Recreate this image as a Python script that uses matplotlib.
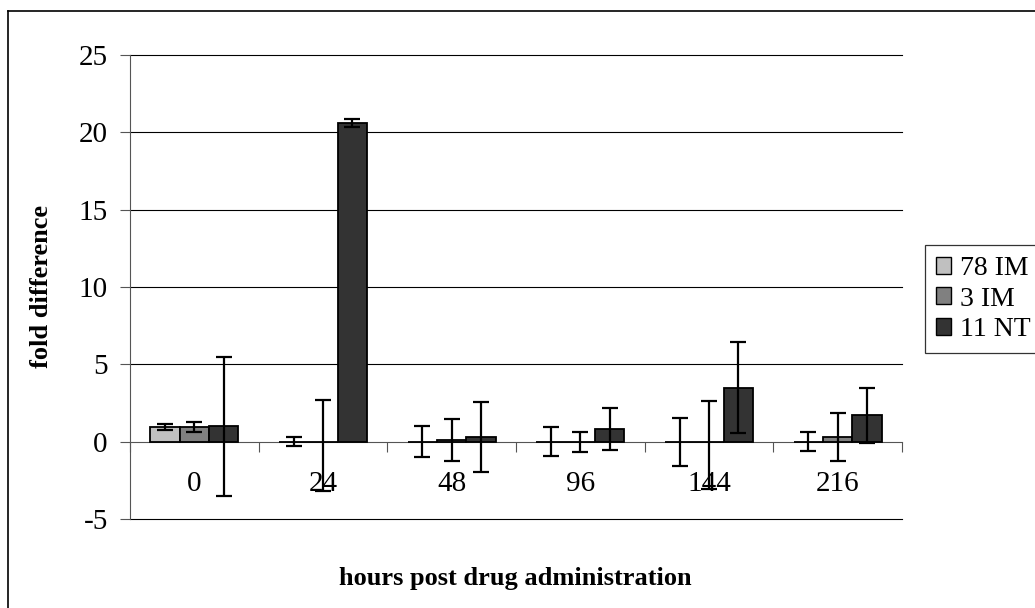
import matplotlib.pyplot as plt
import numpy as np
from matplotlib.patches import Patch
from matplotlib.lines import Line2D

# Datos
horas = ['0', '24', '48', '96', '144', '216']
series = ['78 IM', '3 IM', '11 NT']
colores = ['#c0c0c0', '#808080', '#333333']

im78 = [0.95, 0.0, 0.0, 0.0, 0.0, 0.0]
im78_err_bajo = [0.2, 0.27, 1.0, 0.94, 1.56, 0.6]
im78_err_alto = [0.2, 0.27, 1.0, 0.94, 1.56, 0.6]

im3 = [0.95, 0.0, 0.1, 0.0, 0.0, 0.28]
im3_err_bajo = [0.33, 3.2, 1.35, 0.65, 3.05, 1.55]
im3_err_alto = [0.33, 2.7, 1.35, 0.65, 2.6, 1.55]

nt11 = [1.0, 20.6, 0.3, 0.8, 3.5, 1.7]
nt11_err_bajo = [4.5, 0.28, 2.25, 1.35, 2.95, 1.8]
nt11_err_alto = [4.5, 0.28, 2.25, 1.35, 2.95, 1.8]

valores = [im78, im3, nt11]
errores = [(im78_err_bajo, im78_err_alto), (im3_err_bajo, im3_err_alto),
           (nt11_err_bajo, nt11_err_alto)]

plt.rcParams['font.family'] = ['Liberation Serif', 'DejaVu Serif']
plt.rcParams['axes.unicode_minus'] = False

fig = plt.figure(figsize=(10.35, 6.08), dpi=100)
ax = fig.add_axes([130 / 1035, 1 - 519 / 608, 772 / 1035, 464 / 608])

x = np.arange(len(horas))
ancho = 0.228
for i, (vals, err, col) in enumerate(zip(valores, errores, colores)):
    pos = x + (i - 1) * ancho
    ax.bar(pos, vals, width=ancho, color=col, edgecolor='black', linewidth=1.3, zorder=3)
    ax.errorbar(pos, vals, yerr=[err[0], err[1]], fmt='none', ecolor='black',
                elinewidth=1.6, capsize=6, capthick=1.6, zorder=4)

ax.set_xlim(-0.5, len(horas) - 0.5)
ax.set_ylim(-5, 25)
ax.set_yticks(range(-5, 30, 5))
for yv in range(-5, 30, 5):
    if yv != 0:
        ax.axhline(yv, color='black', linewidth=0.8, zorder=0, clip_on=False)
ax.tick_params(axis='y', direction='out', length=7, width=0.8, labelsize=21, pad=9,
               color='#555555')

# eje de categorías cruzando en 0
ax.spines['bottom'].set_position(('data', 0))
ax.spines['bottom'].set_linewidth(0.8)
ax.spines['bottom'].set_color('#555555')
ax.set_xticks(np.arange(-0.5, len(horas), 1))
ax.set_xticklabels([])
ax.set_xticks(x, minor=True)
ax.set_xticklabels(horas, minor=True)
ax.tick_params(axis='x', which='major', direction='out', length=7, width=0.8, color='#555555')
ax.tick_params(axis='x', which='minor', length=0, labelsize=21, pad=21)
for lado in ['top', 'right']:
    ax.spines[lado].set_visible(False)
ax.spines['left'].set_linewidth(0.8)
ax.spines['left'].set_color('#555555')

fig.text(42 / 1035, 1 - 287 / 608, 'fold difference', rotation=90, fontsize=19,
         fontweight='bold', ha='center', va='center')
fig.text(515 / 1035, 1 - 578 / 608, 'hours post drug administration', fontsize=19,
         fontweight='bold', ha='center', va='center')

handles = [Patch(facecolor=c, edgecolor='black', linewidth=1) for c in colores]
leg = fig.legend(handles, series, loc='upper left', bbox_to_anchor=(925 / 1035, 1 - 245 / 608),
                 fontsize=20, frameon=True, fancybox=False, handlelength=0.55, handleheight=0.55,
                 handletextpad=0.3, labelspacing=0.2, borderpad=0.4, borderaxespad=0)
leg.get_frame().set_edgecolor('black')
leg.get_frame().set_linewidth(0.9)

# borde del gráfico
fig.add_artist(Line2D([8 / 1035, 1], [1 - 11 / 608, 1 - 11 / 608], color='black', linewidth=1.2))
fig.add_artist(Line2D([8 / 1035, 8 / 1035], [0, 1 - 11 / 608], color='black', linewidth=1.2))

fig.savefig('out.png', dpi=100)
